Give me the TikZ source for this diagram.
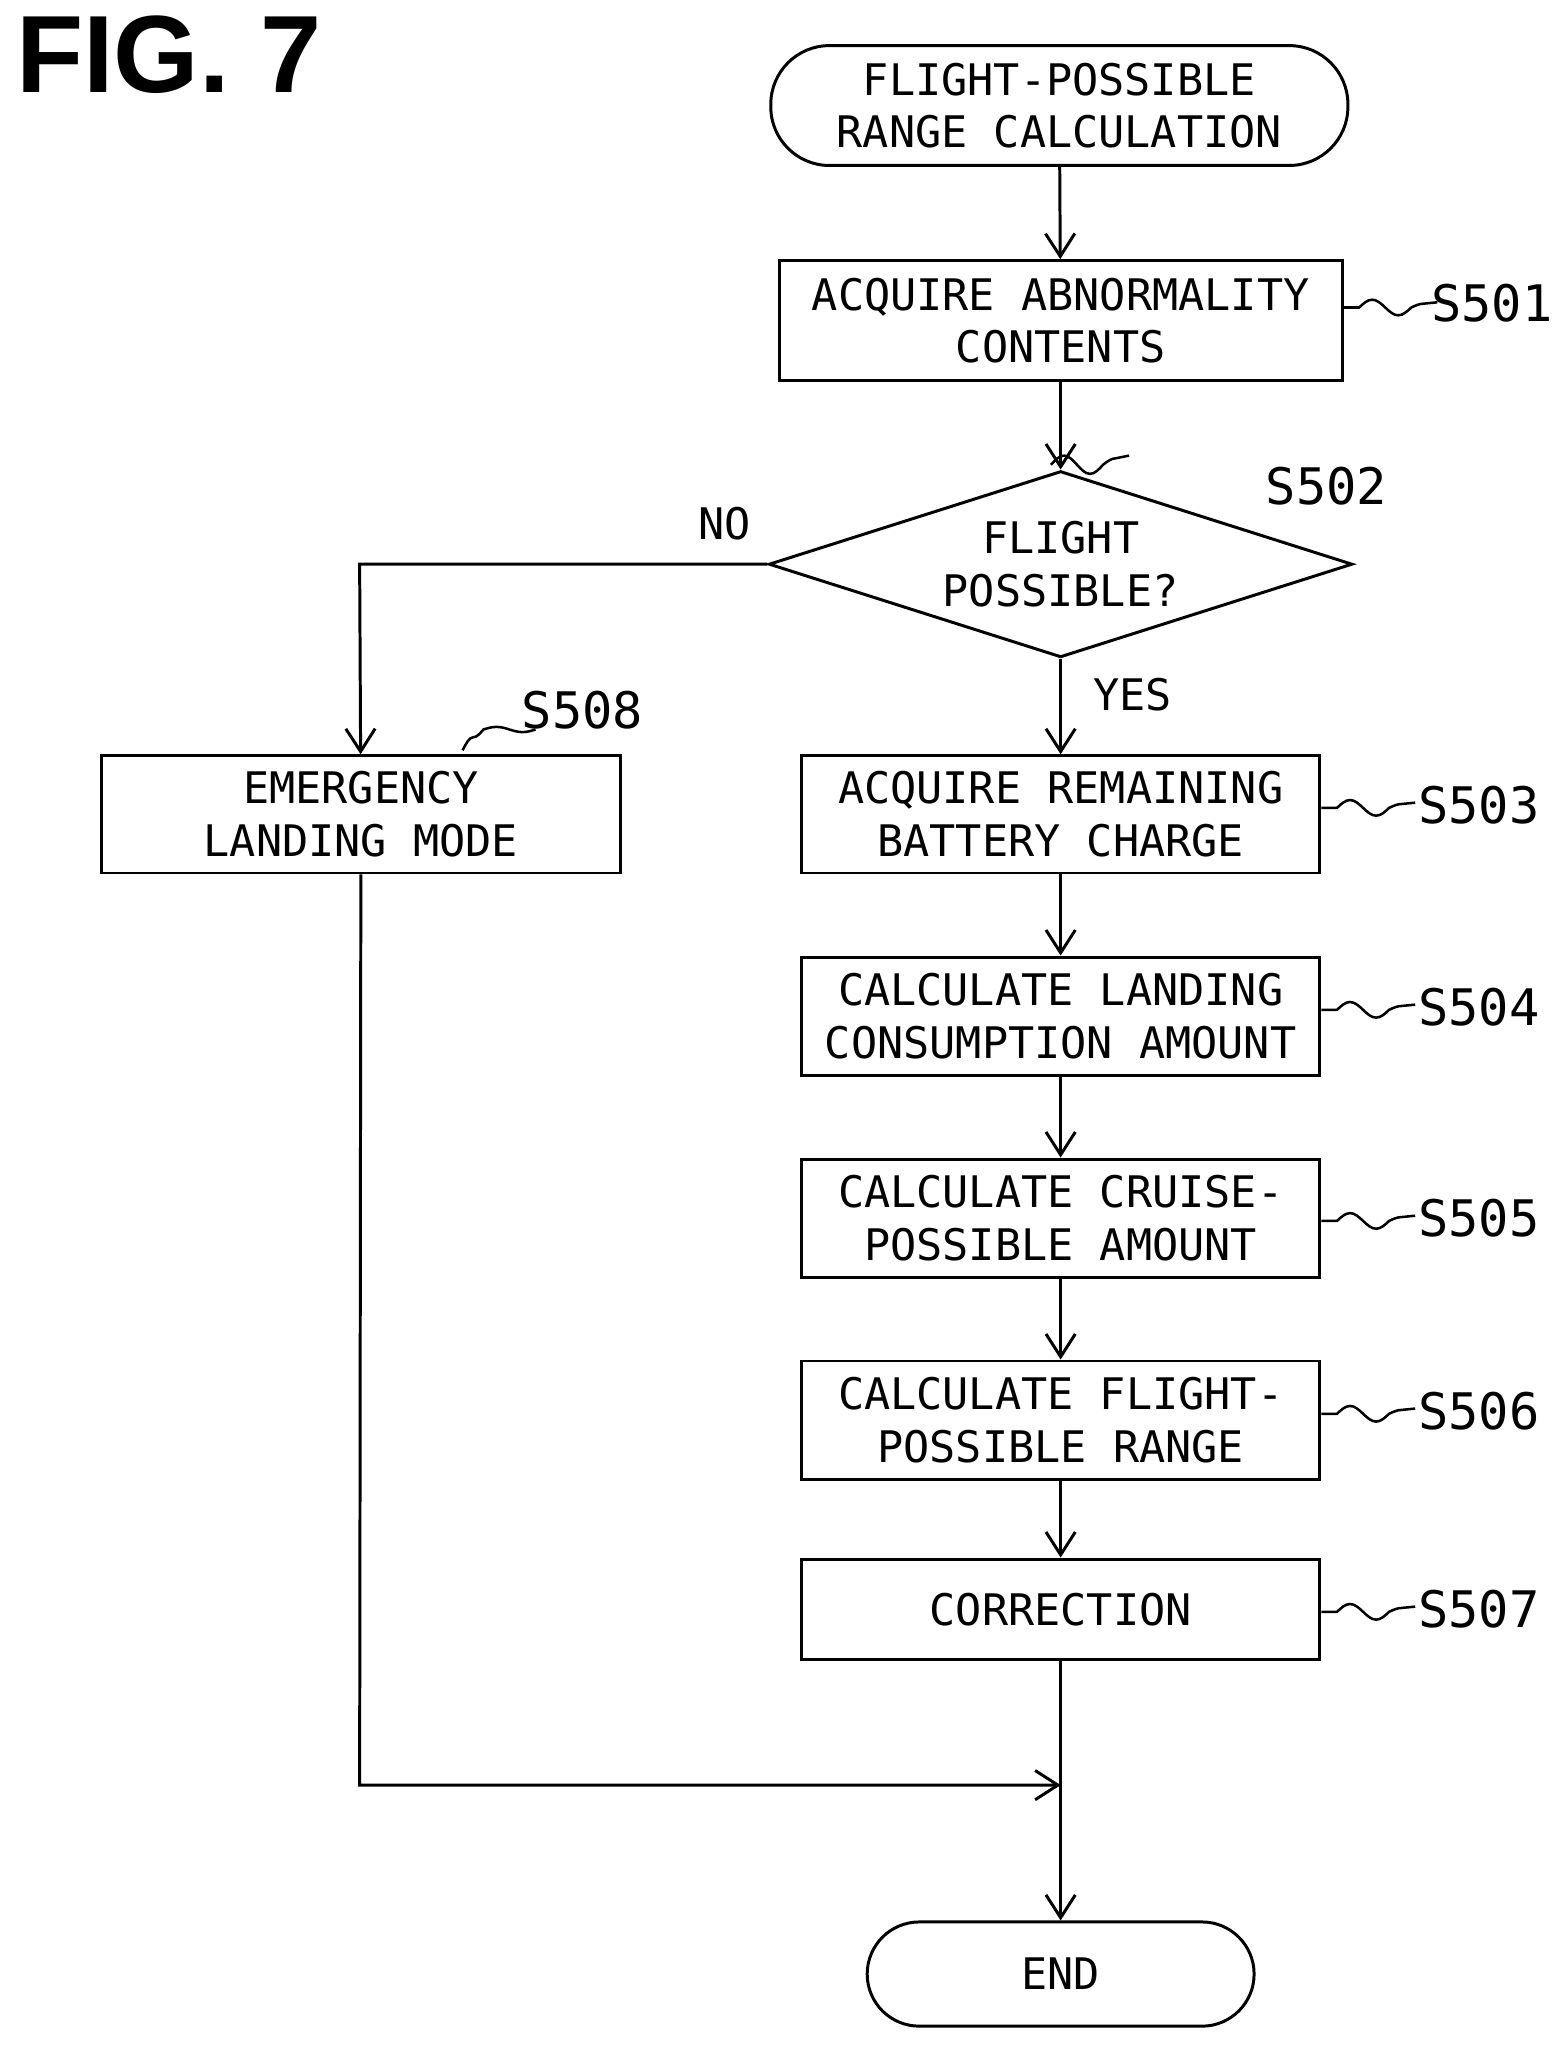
\documentclass[tikz,border=0pt]{standalone}
\usepackage{fontspec}
\setmonofont{DejaVu Sans Mono}
\setsansfont{Liberation Sans}
\usetikzlibrary{arrows.meta,shapes.geometric}
\begin{document}
\begin{tikzpicture}[x=0.02cm,y=-0.02cm,
  every node/.style={font=\ttfamily\fontsize{19}{23}\selectfont, align=center, inner sep=0pt},
  box/.style={draw, line width=1.3pt},
  term/.style={draw, line width=1.3pt, rounded corners=0.9cm},
  ar/.style={line width=1.3pt, -{Straight Barb[length=3.5mm,width=4.5mm,line width=1.3pt]}},
  ln/.style={line width=1.3pt},
  sq/.style={line width=1.1pt}]
\useasboundingbox (0,0) rectangle (1200,1571);
\node[anchor=north west, font=\sffamily\bfseries\fontsize{48}{50}\selectfont] (fig) at (12,12) {FIG. 7};
\node[term, minimum width=8.86cm, minimum height=1.84cm] (start) at (813,81) {FLIGHT-POSSIBLE\\RANGE CALCULATION};
\node[box, minimum width=8.64cm, minimum height=1.84cm] (s501) at (814,246) {ACQUIRE ABNORMALITY\\CONTENTS};
\node[draw, diamond, line width=1.3pt, aspect=3.13, minimum width=8.96cm, minimum height=2.86cm] (s502) at (814,433) {FLIGHT\\POSSIBLE?};
\node[box, minimum width=7.96cm, minimum height=1.8cm] (s508) at (277,625) {EMERGENCY\\LANDING MODE};
\node[box, minimum width=7.96cm, minimum height=1.8cm] (s503) at (814,625) {ACQUIRE REMAINING\\BATTERY CHARGE};
\node[box, minimum width=7.96cm, minimum height=1.82cm] (s504) at (814,780) {CALCULATE LANDING\\CONSUMPTION AMOUNT};
\node[box, minimum width=7.96cm, minimum height=1.82cm] (s505) at (814,935) {CALCULATE CRUISE-\\POSSIBLE AMOUNT};
\node[box, minimum width=7.96cm, minimum height=1.82cm] (s506) at (814,1090) {CALCULATE FLIGHT-\\POSSIBLE RANGE};
\node[box, minimum width=7.96cm, minimum height=1.54cm] (s507) at (814,1235) {CORRECTION};
\node[term, rounded corners=0.8cm, minimum width=5.94cm, minimum height=1.6cm] (end) at (814,1515) {END};
\coordinate (join) at (814,1370);
\coordinate (corner1) at (276,433);
\coordinate (corner2) at (276,1370);
% labels
\node[font=\ttfamily\fontsize{22}{24}\selectfont] (l501) at (1145,233) {S501};
\node[font=\ttfamily\fontsize{22}{24}\selectfont] (l502) at (1018,373) {S502};
\node[font=\ttfamily\fontsize{22}{24}\selectfont] (l508) at (447,545) {S508};
\node[font=\ttfamily\fontsize{22}{24}\selectfont] (l503) at (1135,618) {S503};
\node[font=\ttfamily\fontsize{22}{24}\selectfont] (l504) at (1135,773) {S504};
\node[font=\ttfamily\fontsize{22}{24}\selectfont] (l505) at (1135,935) {S505};
\node[font=\ttfamily\fontsize{22}{24}\selectfont] (l506) at (1135,1083) {S506};
\node[font=\ttfamily\fontsize{22}{24}\selectfont] (l507) at (1135,1235) {S507};
\node (no) at (556,402) {NO};
\node (yes) at (869,533) {YES};
% squiggles
\foreach \n/\y in {s501/236,s503/620,s504/775,s505/937,s506/1085,s507/1237}{
  \draw[sq] (\n.east|-0,\y) ++(0,0) -- ++(12,0) sin ++(10,-6) cos ++(10,6) sin ++(10,6) cos ++(10,-6) sin ++(10,-3) -- ++(10,-1);
}
\draw[sq] (s502.north east) ++(-120,-40) sin ++(10,-7) cos ++(10,7) sin ++(10,7) cos ++(10,-7) sin ++(10,-5) -- ++(10,-2);
\draw[sq] (s508.north) ++(78,-3) sin ++(8,-10) cos ++(8,-6) sin ++(10,-2) cos ++(10,2) sin ++(10,2) cos ++(10,-2);
% connectors
\draw[ar] (start) -- (s501);
\draw[ar] (s501) -- (s502);
\draw[ar] (s502) -- (s503);
\draw[ar] (s502.west) -- (corner1) -- (s508);
\draw[ar] (s503) -- (s504);
\draw[ar] (s504) -- (s505);
\draw[ar] (s505) -- (s506);
\draw[ar] (s506) -- (s507);
\draw[ln] (s507) -- (join);
\draw[ar] (s508) -- (corner2) -- (join);
\draw[ar] (join) -- (end);
\end{tikzpicture}
\end{document}
